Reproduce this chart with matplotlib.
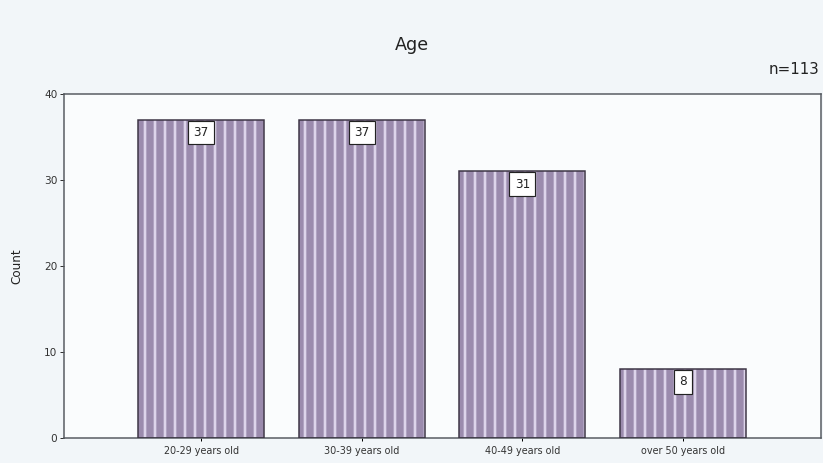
import numpy as np
import matplotlib.pyplot as plt

# data
categories = ["20-29 years old", "30-39 years old", "40-49 years old", "over 50 years old"]
counts = [37, 37, 31, 8]
n_total = 113

bg = "#f2f6f9"
bar_face = "#9b8bad"
stripe = "#ddd4ea"

plt.rcParams["hatch.linewidth"] = 1.6
plt.rcParams["font.family"] = "DejaVu Sans"

fig = plt.figure(figsize=(823 / 120, 463 / 120), dpi=120, facecolor=bg)
ax = fig.add_axes([0.0778, 0.054, 0.9198, 0.743])
ax.set_facecolor("#fafcfd")

x = np.arange(len(categories))
# striped fill, then the outline on top
ax.bar(x, counts, width=0.784, color=bar_face, edgecolor=stripe, hatch="||", linewidth=0, zorder=2)
ax.bar(x, counts, width=0.784, fill=False, edgecolor="#3b3343", linewidth=0.9, zorder=3)

for xi, c in zip(x, counts):
    ax.annotate(str(c), (xi, c), xytext=(0, -7.6), textcoords="offset points",
                ha="center", va="center", fontsize=7.2, color="#222222", zorder=4,
                bbox=dict(boxstyle="square,pad=0.45", fc="white", ec="#222222", lw=0.7))

ax.set_xlim(-0.853, 3.858)
ax.set_ylim(0, 40)
ax.set_yticks([0, 10, 20, 30, 40])
ax.set_xticks(x)
ax.set_xticklabels(categories, fontsize=5.8, color="#333333")
ax.tick_params(axis="y", labelsize=6.3, colors="#333333", length=2.5, width=0.6, pad=1.5)
ax.tick_params(axis="x", length=2, width=0.6, pad=3)
for s in ax.spines.values():
    s.set_color("#555a60")
    s.set_linewidth(0.9)

ax.set_ylabel("Count", fontsize=7.2, color="#222222", labelpad=12)
fig.text(0.5, 0.903, "Age", ha="center", va="center", fontsize=10.5, color="#222222")
fig.text(0.996, 0.849, "n=%d" % n_total, ha="right", va="center", fontsize=9, color="#222222")

fig.savefig("out.png", dpi=120, facecolor=bg)
